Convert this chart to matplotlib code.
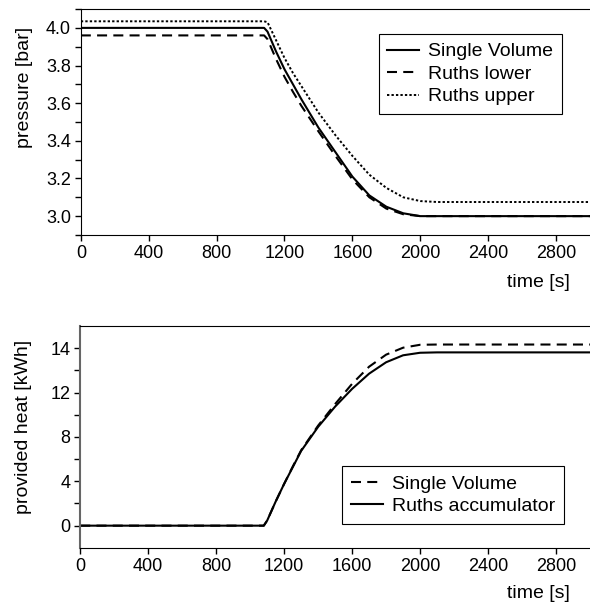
import matplotlib
matplotlib.use('Agg')
import matplotlib.pyplot as plt

plt.rcParams['font.family'] = ['Liberation Sans', 'DejaVu Sans']

# time grid [s]
t = [0, 1080, 1100, 1150, 1200, 1250, 1300, 1400, 1500, 1600, 1700, 1800, 1900, 2000, 2100, 3000]

# pressure [bar]
p_single = [4.00, 4.00, 3.98, 3.875, 3.78, 3.70, 3.62, 3.47, 3.34, 3.21, 3.11, 3.05, 3.015, 3.00, 3.00, 3.00]
p_lower = [3.96, 3.96, 3.94, 3.835, 3.74, 3.66, 3.585, 3.45, 3.32, 3.195, 3.10, 3.04, 3.01, 3.00, 3.00, 3.00]
p_upper = [4.035, 4.035, 4.03, 3.935, 3.84, 3.76, 3.69, 3.55, 3.43, 3.32, 3.22, 3.15, 3.10, 3.08, 3.075, 3.075]

# provided heat (axis units)
q_single = [0, 0, 0.4, 1.9, 3.3, 4.65, 5.95, 7.9, 9.6, 11.2, 12.55, 13.5, 14.05, 14.28, 14.3, 14.3]
q_ruths = [0, 0, 0.4, 1.9, 3.3, 4.6, 5.9, 7.8, 9.4, 10.8, 12.0, 12.9, 13.45, 13.65, 13.68, 13.68]

x_ticks = [0, 400, 800, 1200, 1600, 2000, 2400, 2800]
p_ticks = [3.0, 3.2, 3.4, 3.6, 3.8, 4.0]
p_minor = [2.9, 3.1, 3.3, 3.5, 3.7, 3.9, 4.1]
q_ticks = [0, 3.5, 7, 10.5, 14]
q_ticklabels = ['0', '4', '8', '12', '14']
q_minor = [1.75, 5.25, 8.75, 12.25]

fig = plt.figure(figsize=(5.9, 6.04), dpi=100)
ax1 = fig.add_axes([0.137, 0.611, 0.863, 0.374])
ax2 = fig.add_axes([0.136, 0.093, 0.864, 0.367])

dashed = (0, (4.8, 3.0))
dotted = (0, (1.2, 1.1))

leg_kw = dict(fontsize=14, fancybox=False, edgecolor='black', framealpha=1,
              handlelength=1.65, handletextpad=0.45, borderpad=0.45,
              labelspacing=0.25, borderaxespad=0)

ax1.plot(t, p_single, color='black', lw=1.5, label='Single Volume')
ax1.plot(t, p_lower, color='black', lw=1.5, ls=dashed, label='Ruths lower')
ax1.plot(t, p_upper, color='black', lw=1.4, ls=dotted, label='Ruths upper')
ax1.set_xlim(0, 3000)
ax1.set_ylim(2.9, 4.1)
ax1.set_yticks(p_ticks)
ax1.set_yticklabels(['%.1f' % v for v in p_ticks])
ax1.set_yticks(p_minor, minor=True)
ax1.set_ylabel('pressure [bar]', fontsize=14)
ax1.yaxis.set_label_coords(-0.094, 0.655)
leg1 = ax1.legend(loc='upper right', bbox_to_anchor=(0.945, 0.889), **leg_kw)
leg1.get_frame().set_linewidth(0.8)

ax2.plot(t, q_single, color='black', lw=1.5, ls=dashed, label='Single Volume')
ax2.plot(t, q_ruths, color='black', lw=1.5, label='Ruths accumulator')
ax2.set_xlim(0, 3000)
ax2.set_ylim(-1.75, 15.75)
ax2.set_yticks(q_ticks)
ax2.set_yticklabels(q_ticklabels)
ax2.set_yticks(q_minor, minor=True)
ax2.set_ylabel('provided heat [kWh]', fontsize=14)
ax2.yaxis.set_label_coords(-0.094, 0.545)
ax2.spines['left'].set_color('#666666')
ax2.spines['left'].set_linewidth(1.5)
leg2 = ax2.legend(loc='lower right', bbox_to_anchor=(0.949, 0.108), **leg_kw)
leg2.get_frame().set_linewidth(0.8)

for ax, ly in ((ax1, -0.173), (ax2, -0.167)):
    ax.set_xticks(x_ticks)
    ax.tick_params(axis='both', which='major', labelsize=13, length=4, width=1, direction='out', pad=3)
    ax.tick_params(axis='y', which='minor', length=4, width=1, direction='out')
    ax.tick_params(axis='x', which='minor', bottom=False)
    ax.spines['right'].set_visible(False)
    ax.set_xlabel('time [s]', fontsize=14)
    ax.xaxis.set_label_coords(0.96, ly)
    ax.xaxis.label.set_horizontalalignment('right')

fig.savefig('out.png', dpi=100)
